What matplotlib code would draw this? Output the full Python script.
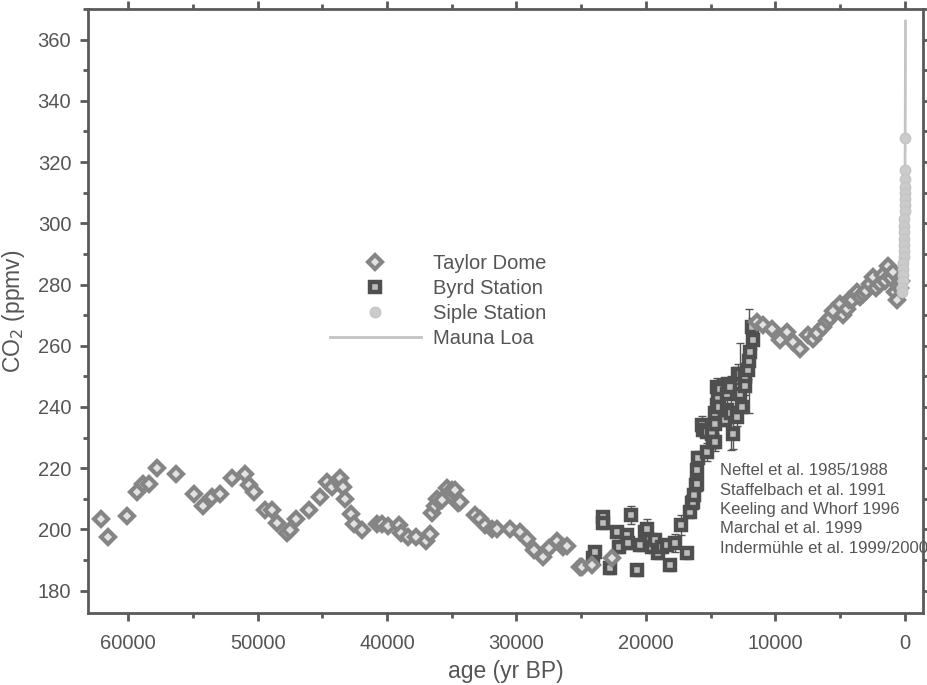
import matplotlib
matplotlib.use("Agg")
import matplotlib.pyplot as plt
from matplotlib.ticker import MultipleLocator

plt.rcParams['font.family'] = ['Liberation Sans', 'DejaVu Sans']

# Taylor Dome (age yr BP, CO2 ppmv)
taylor_age = [62085, 61590, 60100, 59280, 58870, 58350, 57730, 56290, 54900, 54230,
              53540, 52900, 51990, 50940, 50680, 50240, 49450, 48900, 48470, 47750,
              47490, 47050, 46000, 45170, 44660, 44270, 43760, 43630, 43370, 43240,
              42800, 42550, 41950, 40800, 40410, 39900, 39050, 38940, 38350, 37760,
              36990, 36680, 36500, 36290, 36160, 35780, 35390, 35000, 34750, 34490,
              34360, 33200, 32820, 32430, 31920, 31530, 30500, 29730, 29210, 28650,
              27930, 27470, 26850, 26380, 26120, 25100, 24970, 24190, 22650,
              11450, 10940, 10290, 9650, 9140, 8630, 8110, 7470, 7080, 6800,
              6310, 6000, 5800, 5540, 5020, 4760, 4500, 4300, 4120, 3730,
              3500, 3220, 3000, 2700, 2450, 2200, 1930, 1670, 1500, 1270,
              1100, 900, 770, 640, 400, 300]
taylor_co2 = [203.4, 197.6, 204.5, 212.3, 215.0, 215.0, 220.1, 218.0, 211.5, 207.7,
              210.7, 211.5, 216.9, 218.0, 214.5, 212.3, 206.5, 206.5, 202.0, 198.7,
              199.8, 203.3, 206.5, 210.5, 215.5, 213.9, 215.9, 216.7, 213.9, 209.9,
              204.9, 201.8, 199.8, 201.8, 201.8, 201.1, 201.4, 198.7, 197.6, 197.4,
              196.2, 198.4, 205.4, 207.6, 210.0, 209.5, 213.4, 212.8, 212.8, 208.5,
              209.0, 204.7, 203.3, 201.4, 200.0, 200.3, 200.0, 199.2, 196.8, 193.3,
              190.9, 193.8, 196.3, 194.4, 194.6, 187.8, 187.6, 188.4, 190.6,
              267.7, 266.7, 265.6, 261.8, 264.5, 261.2, 259.0, 263.4, 262.3, 264.0,
              266.1, 268.0, 269.0, 271.5, 273.7, 269.9, 272.0, 275.0, 274.8, 277.5,
              276.0, 277.0, 278.0, 280.3, 282.4, 279.0, 280.3, 283.0, 281.0, 286.2,
              282.0, 284.0, 277.5, 274.8, 279.0, 281.0]

# Byrd Station (age yr BP, CO2 ppmv, 1-sigma)
byrd_age = [24070, 23940, 23340, 23340, 22780, 22260, 22060, 21490, 21360, 21160,
            20670, 20460, 20080, 19890, 19690, 19560, 19300, 19050, 18790, 18400,
            18150, 17760, 17320, 16860, 16600, 16470, 16390, 16260, 16140, 16040,
            16040, 15960, 15700, 15610, 15310, 15310, 14930, 14800, 14670, 14670,
            14670, 14540, 14540, 14420, 14340, 14290, 13900, 13770, 13770, 13640,
            13510, 13400, 13300, 12990, 12860, 12740, 12740, 12600, 12360, 12360,
            12100, 12050, 11970, 11830, 11750]
byrd_co2 = [190.6, 192.7, 204.0, 202.0, 187.3, 199.2, 194.4, 198.2, 195.5, 204.7,
            186.8, 194.9, 199.2, 200.3, 196.5, 194.4, 196.5, 192.2, 194.4, 194.9,
            188.4, 195.5, 201.4, 192.2, 205.8, 208.5, 209.0, 211.2, 214.5, 215.0,
            219.4, 223.5, 234.0, 232.4, 225.3, 231.9, 231.3, 228.6, 228.6, 234.6,
            237.9, 240.6, 246.5, 243.3, 240.0, 246.0, 235.7, 244.4, 238.9, 247.6,
            246.5, 238.0, 231.3, 236.7, 250.9, 250.9, 244.4, 240.0, 249.8, 247.0,
            252.0, 255.0, 258.0, 266.1, 261.8]
byrd_err = [2, 2, 2, 2, 2, 2, 2, 2, 2, 3,
            2, 2, 2, 3, 2, 2, 2, 2, 2, 2,
            2, 3, 3.3, 2, 2, 2, 2, 2, 2, 2,
            2, 2, 3, 2, 3, 2, 2, 2, 3, 2,
            2, 2, 3, 2, 2, 3, 2, 3, 2, 2,
            3, 12, 5, 3, 3, 10, 3, 2, 3, 3,
            3, 17, 3, 3, 3]

# Siple Station
siple_age = [-25, -15, -8, -2, 5, 12, 20, 28, 38, 48,
             58, 68, 80, 92, 105, 120, 135, 150, 170, 190, 206]
siple_co2 = [328.0, 317.5, 314.5, 312.0, 310.0, 308.0, 306.0, 304.0, 301.5, 299.0,
             297.0, 295.0, 293.0, 291.0, 289.0, 287.0, 285.0, 283.0, 281.0, 279.0, 277.5]

# Mauna Loa annual means
mauna_age = [-8, -10, -13, -16, -19, -22, -25, -28, -31, -34, -37, -40, -43, -46, -48]
mauna_co2 = [315.5, 317.0, 319.0, 321.5, 324.5, 327.5, 331.0, 335.5, 339.0, 343.0,
             347.0, 352.0, 356.0, 360.5, 366.0]

refs = ["Neftel et al. 1985/1988",
        "Staffelbach et al. 1991",
        "Keeling and Whorf 1996",
        "Marchal et al. 1999",
        "Indermühle et al. 1999/2000"]

text_col = "#555555"
axis_col = "#5a5a5a"

fig = plt.figure(figsize=(9.27, 6.85), dpi=100)
ax = fig.add_axes([0.0949, 0.105, 0.9008, 0.882])

ax.plot(mauna_age, mauna_co2, color="#c4c4c4", lw=2, label="Mauna Loa", zorder=2)
ax.errorbar(byrd_age, byrd_co2, yerr=byrd_err, fmt="none", ecolor="#555555",
            elinewidth=1, capsize=3, capthick=1, zorder=3)
ax.plot(byrd_age, byrd_co2, ls="none", marker="s", ms=7.5, mfc="#bdbdbd",
        mec="#4f4f4f", mew=3.2, label="Byrd Station", zorder=4)
ax.plot(taylor_age, taylor_co2, ls="none", marker="D", ms=7, mfc="#e2e2e2",
        mec="#858585", mew=3, label="Taylor Dome", zorder=5)
ax.plot(siple_age, siple_co2, ls="none", marker="o", ms=7.5, mfc="#cbcbcb",
        mec="#c4c4c4", mew=1, label="Siple Station", zorder=6)

ax.set_xlim(63100, -1400)
ax.set_ylim(172.7, 370)
ax.xaxis.set_major_locator(MultipleLocator(10000))
ax.xaxis.set_minor_locator(MultipleLocator(5000))
ax.yaxis.set_major_locator(MultipleLocator(20))
ax.yaxis.set_minor_locator(MultipleLocator(10))

for s in ax.spines.values():
    s.set_color(axis_col)
    s.set_linewidth(2)
ax.tick_params(which="both", direction="out", top=True, right=True,
               colors=axis_col, labelcolor=text_col, labelsize=14.5, width=2)
ax.tick_params(which="major", length=6)
ax.tick_params(axis="x", which="major", pad=9)
ax.tick_params(axis="y", which="major", pad=6)
ax.tick_params(which="minor", length=3.5)

ax.set_xlabel("age (yr BP)", fontsize=16.5, color=text_col, labelpad=5)
ax.set_ylabel("CO$_2$ (ppmv)", fontsize=16.5, color=text_col, labelpad=8)

h, l = ax.get_legend_handles_labels()
order = ["Taylor Dome", "Byrd Station", "Siple Station", "Mauna Loa"]
handles = [h[l.index(name)] for name in order]
leg = ax.legend(handles, order, loc="upper left", bbox_to_anchor=(0.29, 0.594),
                frameon=False, fontsize=14.5, handlelength=4.5, handletextpad=0.6,
                labelspacing=0.3, borderpad=0, borderaxespad=0)
for t in leg.get_texts():
    t.set_color(text_col)

ax.text(0.757, 0.248, "\n".join(refs), transform=ax.transAxes, fontsize=12,
        color=text_col, va="top", ha="left", linespacing=1.36,
        family=["Liberation Sans Narrow", "Liberation Sans"], zorder=1)

fig.savefig("out.png", dpi=100)
